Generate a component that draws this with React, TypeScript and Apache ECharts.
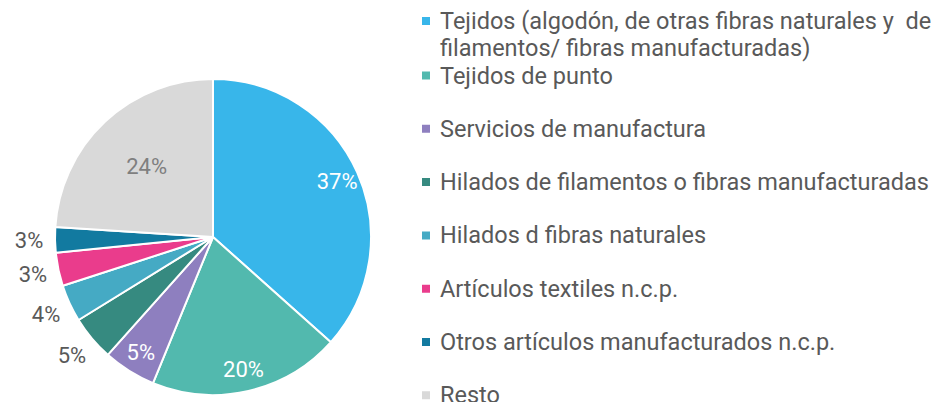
import React, { useEffect, useRef } from "react";
import * as echarts from "echarts";

const categories = [
  "Tejidos (algodón, de otras fibras naturales y  de filamentos/ fibras manufacturadas)",
  "Tejidos de punto",
  "Servicios de manufactura",
  "Hilados de filamentos o fibras manufacturadas",
  "Hilados d fibras naturales",
  "Artículos textiles n.c.p.",
  "Otros artículos manufacturados n.c.p.",
  "Resto",
];
const shares = [36.6, 19.6, 5.4, 4.6, 3.8, 3.4, 2.6, 24.0];

const colors = ["#38b6ea", "#52b9ae", "#8e7fbf", "#368a80", "#45aac4", "#ea3c8c", "#127aa0", "#d9d9d9"];
const labelPlace = ["mid", "mid", "mid", "outer", "outer", "outer", "outer", "inner"];
const labelColors = ["#ffffff", "#ffffff", "#ffffff", "#595959", "#595959", "#595959", "#595959", "#7f7f7f"];

const CX = 213;
const CY = 237;
const R = 158;
const FONT = "Roboto, 'Noto Sans', sans-serif";

function labelRing(place: string, radius: [number, number]) {
  return {
    type: "pie",
    center: [CX, CY],
    radius,
    startAngle: 90,
    clockwise: true,
    silent: true,
    emphasis: { disabled: true },
    itemStyle: { color: "rgba(0,0,0,0)", borderWidth: 0 },
    labelLine: { show: false },
    label: {
      show: true,
      position: "inside",
      fontSize: 22,
      fontFamily: FONT,
      formatter: (p: any) => Math.round(p.value) + "%",
    },
    data: categories.map((name, i) => ({
      name,
      value: shares[i],
      label: { show: labelPlace[i] === place, color: labelColors[i] },
    })),
  };
}

export default function App() {
  const ref = useRef<HTMLDivElement>(null);
  useEffect(() => {
    if (!ref.current) return;
    const chart = echarts.init(ref.current, undefined, { renderer: "svg" });
    const legends = categories.map((name, i) => {
      const first = i === 0;
      const iconCenter = first ? 21 : 75.5 + (i - 1) * 53.3;
      return {
        data: [name],
        orient: "vertical",
        left: 420,
        top: first ? iconCenter - 40.5 : iconCenter - 13.5,
        padding: 0,
        itemGap: 0,
        itemWidth: 10,
        itemHeight: 10,
        icon: "rect",
        selectedMode: false,
        formatter: first
          ? (n: string) => "\n" + n.replace("  ", " \u00a0").replace(" filamentos/", "\nfilamentos/")
          : "{name}",
        textStyle: {
          color: "#595959",
          fontSize: 23.5,
          fontFamily: FONT,
          lineHeight: 27,
          padding: [0, 0, 0, 4],
        },
      };
    });
    chart.setOption({
      animation: false,
      color: colors,
      legend: legends,
      series: [
        {
          type: "pie",
          center: [CX, CY],
          radius: [0, R],
          startAngle: 90,
          clockwise: true,
          silent: true,
          label: { show: false },
          labelLine: { show: false },
          itemStyle: { borderColor: "#ffffff", borderWidth: 2 },
          data: categories.map((name, i) => ({ name, value: shares[i] })),
        },
        labelRing("mid", [108, R]),
        labelRing("inner", [30, R]),
        labelRing("outer", [166, 196]),
      ],
    });
    return () => chart.dispose();
  }, []);
  return (
    <div
      ref={ref}
      style={{ position: "fixed", left: 0, top: 0, width: 950, height: 402, background: "#ffffff" }}
    />
  );
}
